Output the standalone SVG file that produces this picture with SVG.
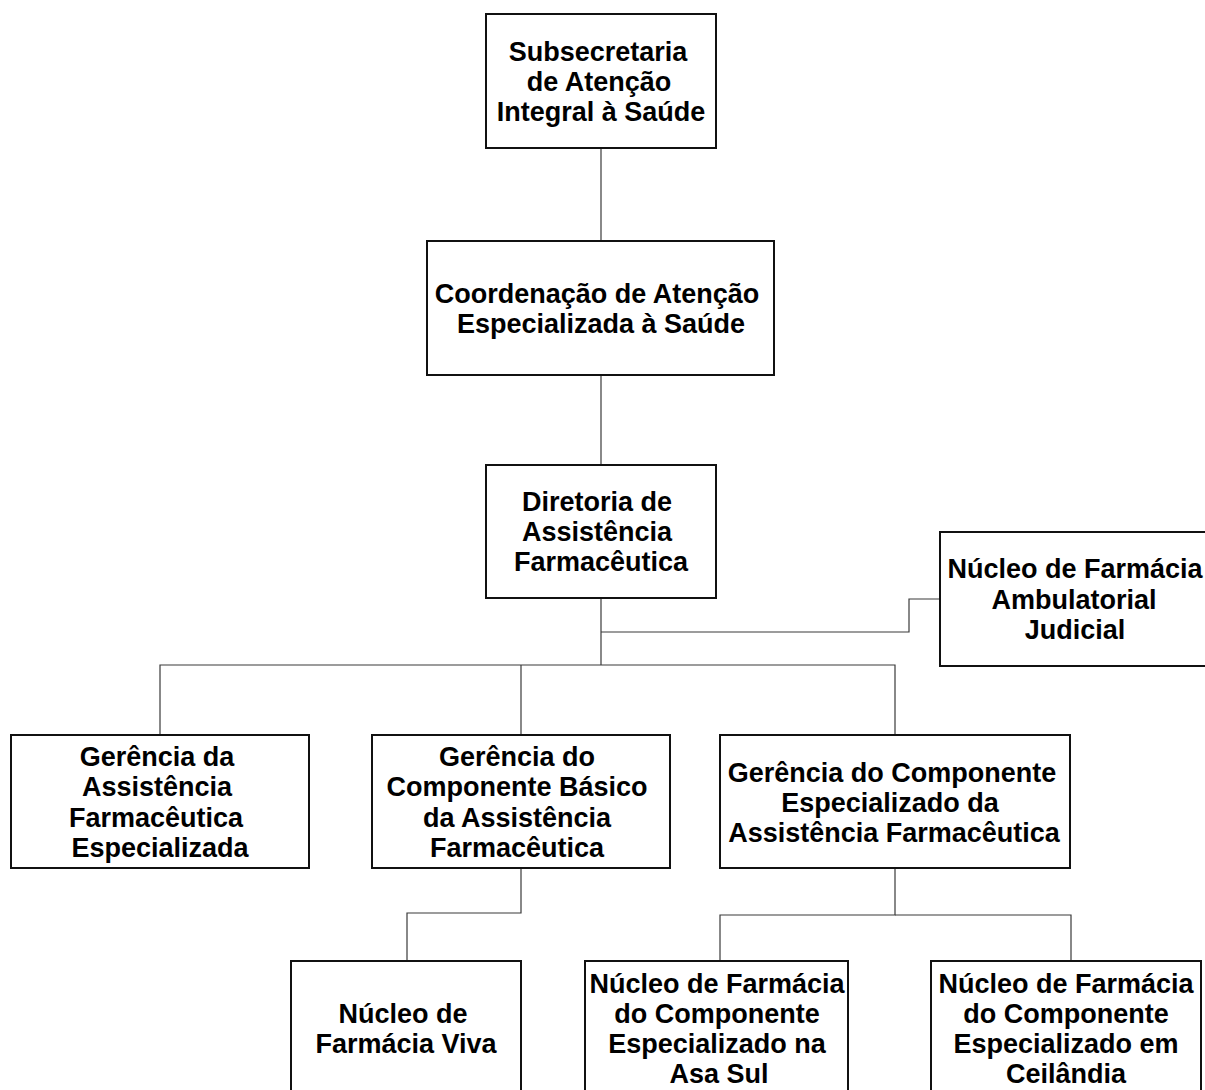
<svg xmlns="http://www.w3.org/2000/svg" width="1205" height="1090" viewBox="0 0 1205 1090">
  <style>
    .box { fill: #ffffff; stroke: #111111; stroke-width: 2; }
    .lbl { font-family: "Liberation Sans", Arial, sans-serif; font-weight: bold; font-size: 27px; fill: #000000; text-anchor: middle; }
    .link { fill: none; stroke: #3a3a3a; stroke-width: 1.2; }
  </style>
  <rect width="1205" height="1090" fill="#ffffff"/>

  <!-- connectors -->
  <g id="connectors">
    <path class="link" d="M601 148 V241"/>
    <path class="link" d="M601 375 V465"/>
    <path class="link" d="M601 598 V665"/>
    <path class="link" d="M601 632 H909 V599 H940"/>
    <path class="link" d="M160 735 V665 H895 V735"/>
    <path class="link" d="M521 665 V735"/>
    <path class="link" d="M521 868 V913 H407 V961"/>
    <path class="link" d="M895 868 V915 H720 V961"/>
    <path class="link" d="M895 915 H1071 V961"/>
  </g>

  <g id="subsecretaria">
    <rect class="box" x="486" y="14" width="230" height="134"/>
    <text class="lbl" x="598" y="60.5">Subsecretaria</text>
    <text class="lbl" x="599" y="90.5">de Atenção</text>
    <text class="lbl" x="601" y="120.5">Integral à Saúde</text>
  </g>

  <g id="coordenacao">
    <rect class="box" x="427" y="241" width="347" height="134"/>
    <text class="lbl" x="597" y="302.5">Coordenação de Atenção</text>
    <text class="lbl" x="601" y="332.5">Especializada à Saúde</text>
  </g>

  <g id="diretoria">
    <rect class="box" x="486" y="465" width="230" height="133"/>
    <text class="lbl" x="597" y="510.5">Diretoria de</text>
    <text class="lbl" x="597" y="540.5">Assistência</text>
    <text class="lbl" x="601" y="570.5">Farmacêutica</text>
  </g>

  <g id="nucleo-ambulatorial">
    <rect class="box" x="940" y="532" width="280" height="134"/>
    <text class="lbl" x="1075" y="577.5">Núcleo de Farmácia</text>
    <text class="lbl" x="1074" y="608.5">Ambulatorial</text>
    <text class="lbl" x="1075" y="638.5">Judicial</text>
  </g>

  <g id="gerencia-especializada">
    <rect class="box" x="11" y="735" width="298" height="133"/>
    <text class="lbl" x="157" y="765.5">Gerência da</text>
    <text class="lbl" x="157" y="795.5">Assistência</text>
    <text class="lbl" x="156" y="826.5">Farmacêutica</text>
    <text class="lbl" x="160" y="856.5">Especializada</text>
  </g>

  <g id="gerencia-basico">
    <rect class="box" x="372" y="735" width="298" height="133"/>
    <text class="lbl" x="517" y="765.5">Gerência do</text>
    <text class="lbl" x="517" y="795.5">Componente Básico</text>
    <text class="lbl" x="517" y="826.5">da Assistência</text>
    <text class="lbl" x="517" y="856.5">Farmacêutica</text>
  </g>

  <g id="gerencia-componente">
    <rect class="box" x="720" y="735" width="350" height="133"/>
    <text class="lbl" x="892" y="781.5">Gerência do Componente</text>
    <text class="lbl" x="890" y="811.5">Especializado da</text>
    <text class="lbl" x="894" y="841.5">Assistência Farmacêutica</text>
  </g>

  <g id="nucleo-viva">
    <rect class="box" x="291" y="961" width="230" height="150"/>
    <text class="lbl" x="403" y="1022.5">Núcleo de</text>
    <text class="lbl" x="406" y="1052.5">Farmácia Viva</text>
  </g>

  <g id="nucleo-asa-sul">
    <rect class="box" x="585" y="961" width="263" height="150"/>
    <text class="lbl" x="717" y="992.5">Núcleo de Farmácia</text>
    <text class="lbl" x="717" y="1022.5">do Componente</text>
    <text class="lbl" x="717" y="1052.5">Especializado na</text>
    <text class="lbl" x="719" y="1082.5">Asa Sul</text>
  </g>

  <g id="nucleo-ceilandia">
    <rect class="box" x="931" y="961" width="270" height="150"/>
    <text class="lbl" x="1066" y="992.5">Núcleo de Farmácia</text>
    <text class="lbl" x="1066" y="1022.5">do Componente</text>
    <text class="lbl" x="1066" y="1052.5">Especializado em</text>
    <text class="lbl" x="1066" y="1082.5">Ceilândia</text>
  </g>
</svg>
